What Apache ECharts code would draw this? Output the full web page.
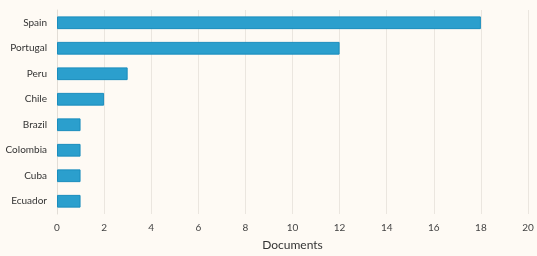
<!DOCTYPE html>
<html><head><meta charset="utf-8">
<script src="https://cdn.jsdelivr.net/npm/echarts@6/dist/echarts.min.js"></script>
<style>html,body{margin:0;padding:0;background:#fefaf4;}#c{width:537px;height:256px;}</style>
</head><body><div id="c"></div>
<script>
var categories = ["Spain","Portugal","Peru","Chile","Brazil","Colombia","Cuba","Ecuador"];
var documents = [18,12,3,2,1,1,1,1];
var xTicks = [0,2,4,6,8,10,12,14,16,18,20];
var chart = echarts.init(document.getElementById('c'), null, {renderer:'canvas'});
chart.setOption({
  backgroundColor:'#fefaf4',
  animation:false,
  textStyle:{fontFamily:'Lato'},
  grid:{left:57,right:9,top:10,bottom:41,containLabel:false},
  xAxis:{type:'value',min:xTicks[0],max:xTicks[xTicks.length-1],interval:2,
    name:'Documents',nameLocation:'middle',nameGap:25,
    nameTextStyle:{fontSize:12,color:'#333',fontFamily:'Lato'},
    axisLine:{show:false},axisTick:{show:false},
    axisLabel:{fontSize:10,color:'#444',margin:9},
    splitLine:{lineStyle:{color:'#ebe6df',width:1}}},
  yAxis:{type:'category',data:categories,inverse:true,
    axisLine:{show:true,lineStyle:{color:'#e2ddd6'}},axisTick:{show:false},
    axisLabel:{fontSize:10,color:'#333',margin:10}},
  series:[{type:'bar',data:documents,barWidth:'50%',
    itemStyle:{color:'#2b9fcd',borderColor:'#1a8dbd',borderWidth:1}}]
});
</script></body></html>
